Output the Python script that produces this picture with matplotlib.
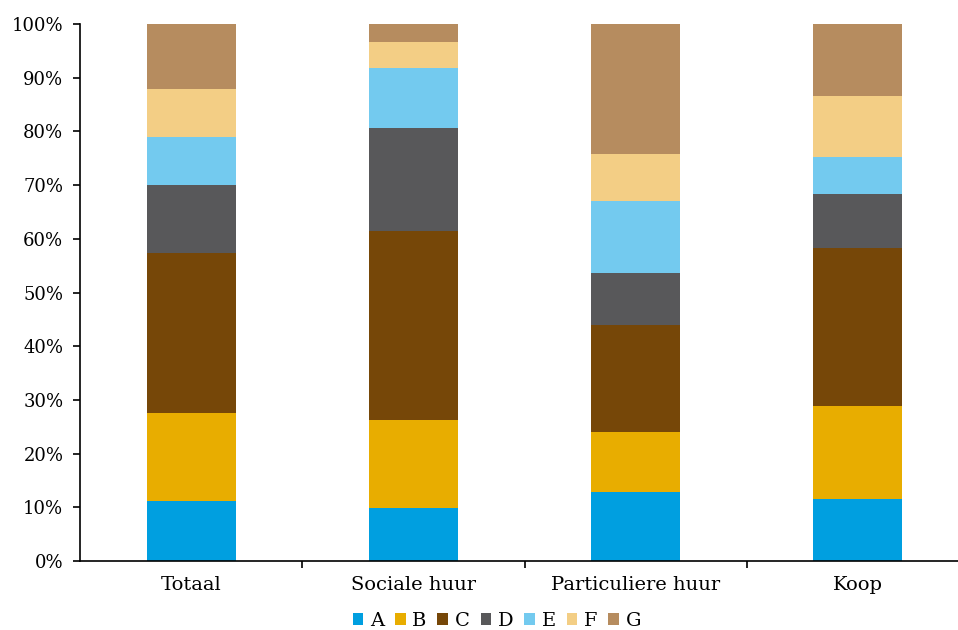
import matplotlib
matplotlib.use("Agg")
import matplotlib.pyplot as plt
from matplotlib.patches import Patch
from matplotlib.ticker import FuncFormatter, FixedLocator

categories = ["Totaal", "Sociale huur", "Particuliere huur", "Koop"]
labels = ["A", "B", "C", "D", "E", "F", "G"]
colors = ["#009FE0", "#E8AD00", "#764708", "#58585A", "#73CAEF", "#F3CE85", "#B68C5F"]

# shares per energy label (%), per category
A = [11.2, 9.9, 12.8, 11.5]
B = [16.4, 16.4, 11.2, 17.4]
C = [29.8, 35.2, 20.0, 29.4]
D = [12.6, 19.1, 9.6, 10.0]
E = [9.0, 11.2, 13.4, 6.9]
F = [8.9, 4.8, 8.8, 11.4]
G = [12.1, 3.4, 24.2, 13.4]
series = [A, B, C, D, E, F, G]

plt.rcParams["font.family"] = ["DejaVu Serif"]

fig = plt.figure(figsize=(9.58, 6.3), dpi=100)
ax = fig.add_axes([80 / 958, 1 - 561 / 630, (969 - 80) / 958, (561 - 24) / 630])

x = list(range(len(categories)))
bottom = [0.0] * len(categories)
for vals, col in zip(series, colors):
    ax.bar(x, vals, width=0.4, bottom=bottom, color=col, edgecolor="none")
    bottom = [b + v for b, v in zip(bottom, vals)]

ax.set_xlim(-0.5, 3.5)
ax.set_ylim(0, 100)
ax.set_yticks(range(0, 101, 10))
ax.yaxis.set_major_formatter(FuncFormatter(lambda v, p: f"{int(v)}%"))
ax.tick_params(axis="y", direction="out", length=5, width=1.2, labelsize=13, pad=7)

ax.set_xticks(x)
ax.set_xticklabels(categories)
ax.tick_params(axis="x", which="major", length=0, labelsize=14, pad=11)
ax.xaxis.set_minor_locator(FixedLocator([0.5, 1.5, 2.5]))
ax.tick_params(axis="x", which="minor", direction="out", length=5, width=1.2)

for s in ["top", "right"]:
    ax.spines[s].set_visible(False)
for s in ["left", "bottom"]:
    ax.spines[s].set_linewidth(1.2)
    ax.spines[s].set_color("#000000")

handles = [Patch(facecolor=c, edgecolor="none") for c in colors]
fig.legend(handles, labels, loc="center", bbox_to_anchor=(497 / 958, 1 - 621 / 630),
           ncol=7, frameon=False, fontsize=14, handlelength=0.55, handleheight=0.55,
           handletextpad=0.35, columnspacing=0.55)

fig.savefig("out.png", dpi=100)
